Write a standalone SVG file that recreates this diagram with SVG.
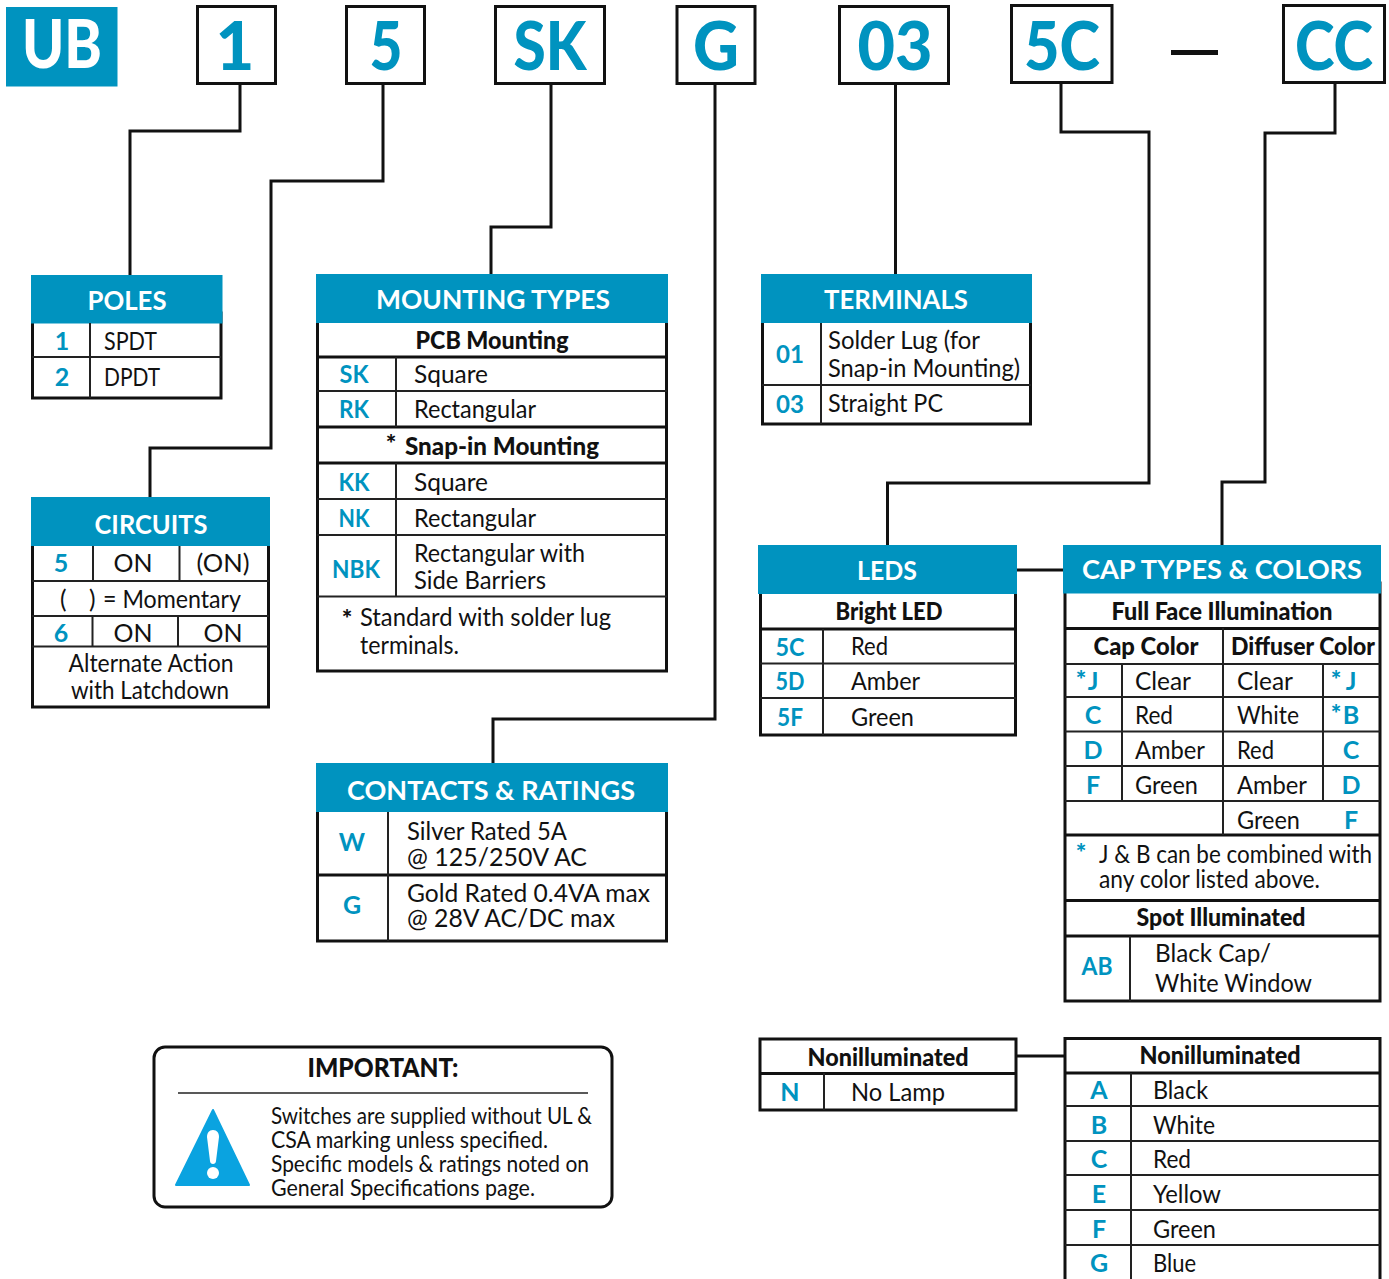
<svg xmlns="http://www.w3.org/2000/svg" width="1389" height="1279" viewBox="0 0 1389 1279">
<style>
text{font-family:"Lato","Liberation Sans",sans-serif;fill:#111}
.hd{fill:#0093bf}
.box{fill:#fff;stroke:#111;stroke-width:3}
.l{stroke:#222;stroke-width:2;fill:none}
.t{stroke:#111;stroke-width:3;fill:none}
.top{font-size:67px;font-weight:900;fill:#0093bf;text-anchor:middle}
.ti{font-size:27.500px;font-weight:700;fill:#fff;text-anchor:middle}
.b{font-size:24.500px}
.bc{font-size:24.500px;text-anchor:middle}
.sub{font-size:25px;font-weight:900;text-anchor:middle}
.c{font-size:25px;font-weight:700;fill:#0093bf;text-anchor:middle}
.s{font-size:25px;font-weight:900;fill:#0093bf;text-anchor:middle}
.sk{font-size:25px;font-weight:900;text-anchor:middle}
.imp{font-size:22.500px}
.con{fill:none;stroke:#111;stroke-width:3}
</style>
<g id="connectors" class="con">
<path d="M240 84V131H130V275"/>
<path d="M383 84V181H271V448H150V497"/>
<path d="M551 84V227H491V274"/>
<path d="M715 84V719H493V763"/>
<path d="M895.500 84V274"/>
<path d="M1061 84V132H1149V483H887.500V545"/>
<path d="M1335 84V133H1265V482H1222V545"/>
<path d="M1017 570H1063"/>
<path d="M1016 1056H1064"/>
</g>
<g id="code-ub"><rect x="6" y="7" width="111.500" height="79.500" class="hd"/><text x="62" y="68" class="top" style="fill:#fff" textLength="80" lengthAdjust="spacingAndGlyphs">UB</text></g>
<g id="code-1"><rect x="197.500" y="6.500" width="78" height="77" class="box"/><text x="235" y="70" class="top">1</text></g>
<g id="code-5"><rect x="346.500" y="6.500" width="78" height="77" class="box"/><text x="386" y="70" class="top" textLength="33" lengthAdjust="spacingAndGlyphs">5</text></g>
<g id="code-sk"><rect x="495.500" y="6.500" width="109" height="77" class="box"/><text x="550" y="70" class="top" textLength="73" lengthAdjust="spacingAndGlyphs">SK</text></g>
<g id="code-g"><rect x="677" y="6.500" width="78" height="77" class="box"/><text x="716" y="70" class="top" textLength="46" lengthAdjust="spacingAndGlyphs">G</text></g>
<g id="code-03"><rect x="839.500" y="6.500" width="109" height="77" class="box"/><text x="895" y="70" class="top" textLength="75" lengthAdjust="spacingAndGlyphs">03</text></g>
<g id="code-5c"><rect x="1011.500" y="5.500" width="100.500" height="77" class="box"/><text x="1062" y="70" class="top" textLength="76" lengthAdjust="spacingAndGlyphs">5C</text></g>
<g id="code-dash"><rect x="1171" y="50" width="47" height="5" fill="#111"/></g>
<g id="code-cc"><rect x="1283.500" y="5.500" width="101" height="77" class="box"/><text x="1334" y="70" class="top" textLength="78" lengthAdjust="spacingAndGlyphs">CC</text></g>

<g id="poles">
<rect x="32.500" y="313" width="188.500" height="85" class="box"/><rect x="31" y="275" width="191.500" height="48.500" class="hd"/>
<path class="l" d="M32 357H221M90 323V398"/>
<text x="127" y="310" class="ti" textLength="79" lengthAdjust="spacingAndGlyphs">POLES</text>
<text x="62" y="350" class="c">1</text><text x="104" y="350" class="b" textLength="53" lengthAdjust="spacingAndGlyphs">SPDT</text>
<text x="62" y="386" class="c">2</text><text x="104" y="386" class="b" textLength="56" lengthAdjust="spacingAndGlyphs">DPDT</text>
</g>

<g id="circuits">
<rect x="32.500" y="536" width="236" height="171" class="box"/><rect x="31" y="497" width="239" height="49" class="hd"/>
<path class="l" d="M32 581H269M32 616H269M32 646.500H269M93 546V581M179.500 546V581M92.500 616V646M178 616V646"/>
<text x="151" y="534" class="ti" textLength="113" lengthAdjust="spacingAndGlyphs">CIRCUITS</text>
<text x="61" y="572" class="c">5</text><text x="133" y="572" class="bc" textLength="39" lengthAdjust="spacingAndGlyphs">ON</text><text x="223" y="572" class="bc" textLength="53" lengthAdjust="spacingAndGlyphs">(ON)</text>
<text x="60" y="608" class="b">(</text><text x="89" y="608" class="b">)</text><text x="103" y="608" class="b" textLength="138" lengthAdjust="spacingAndGlyphs">= Momentary</text>
<text x="61" y="642" class="c">6</text><text x="133" y="642" class="bc" textLength="39" lengthAdjust="spacingAndGlyphs">ON</text><text x="223" y="642" class="bc" textLength="39" lengthAdjust="spacingAndGlyphs">ON</text>
<text x="151" y="672" class="bc" textLength="165" lengthAdjust="spacingAndGlyphs">Alternate Action</text>
<text x="150" y="699" class="bc" textLength="158" lengthAdjust="spacingAndGlyphs">with Latchdown</text>
</g>

<g id="mounting-types">
<rect x="317.500" y="313" width="349" height="358" class="box"/><rect x="316" y="274" width="352" height="49" class="hd"/>
<path class="t" d="M317 357H667M317 427H667M317 463H667"/>
<path class="l" d="M317 391H667M317 499H667M317 535H667M317 596.500H667M396 357V427M396 463V596"/>
<text x="493" y="309" class="ti" textLength="234" lengthAdjust="spacingAndGlyphs">MOUNTING TYPES</text>
<text x="492" y="349" class="sub" textLength="153" lengthAdjust="spacingAndGlyphs">PCB Mounting</text>
<text x="354" y="383" class="c" textLength="29" lengthAdjust="spacingAndGlyphs">SK</text><text x="414" y="383" class="b" textLength="74" lengthAdjust="spacingAndGlyphs">Square</text>
<text x="354" y="418" class="c" textLength="30" lengthAdjust="spacingAndGlyphs">RK</text><text x="414" y="418" class="b" textLength="122" lengthAdjust="spacingAndGlyphs">Rectangular</text>
<text x="391" y="453" class="sk">*</text><text x="405" y="455" class="sub" style="text-anchor:start" textLength="194" lengthAdjust="spacingAndGlyphs">Snap-in Mounting</text>
<text x="354" y="491" class="c" textLength="31" lengthAdjust="spacingAndGlyphs">KK</text><text x="414" y="491" class="b" textLength="74" lengthAdjust="spacingAndGlyphs">Square</text>
<text x="354" y="527" class="c" textLength="31" lengthAdjust="spacingAndGlyphs">NK</text><text x="414" y="527" class="b" textLength="122" lengthAdjust="spacingAndGlyphs">Rectangular</text>
<text x="356" y="578" class="c" textLength="48" lengthAdjust="spacingAndGlyphs">NBK</text>
<text x="414" y="562" class="b" textLength="171" lengthAdjust="spacingAndGlyphs">Rectangular with</text>
<text x="414" y="589" class="b" textLength="132" lengthAdjust="spacingAndGlyphs">Side Barriers</text>
<text x="347" y="628" class="sk">*</text>
<text x="360" y="626" class="b" textLength="251" lengthAdjust="spacingAndGlyphs">Standard with solder lug</text>
<text x="360" y="654" class="b" textLength="99" lengthAdjust="spacingAndGlyphs">terminals.</text>
</g>

<g id="terminals">
<rect x="762.500" y="313" width="268" height="111" class="box"/><rect x="761" y="274" width="271" height="49" class="hd"/>
<path class="l" d="M762 385H1031M821 323V424"/>
<text x="896" y="309" class="ti" textLength="144" lengthAdjust="spacingAndGlyphs">TERMINALS</text>
<text x="790" y="363" class="c" textLength="28" lengthAdjust="spacingAndGlyphs">01</text>
<text x="828" y="349" class="b" textLength="152" lengthAdjust="spacingAndGlyphs">Solder Lug (for</text>
<text x="828" y="377" class="b" textLength="192" lengthAdjust="spacingAndGlyphs">Snap-in Mounting)</text>
<text x="790" y="413" class="c" textLength="28" lengthAdjust="spacingAndGlyphs">03</text>
<text x="828" y="412" class="b" textLength="115" lengthAdjust="spacingAndGlyphs">Straight PC</text>
</g>

<g id="leds">
<rect x="760.500" y="584" width="255" height="151" class="box"/><rect x="758" y="545" width="259" height="49" class="hd"/>
<path class="t" d="M760 629H1016"/>
<path class="l" d="M760 663.500H1016M760 698H1016M823 629V735"/>
<text x="887" y="580" class="ti" textLength="60" lengthAdjust="spacingAndGlyphs">LEDS</text>
<text x="889" y="620" class="sub" textLength="107" lengthAdjust="spacingAndGlyphs">Bright LED</text>
<text x="790" y="656" class="c" textLength="29" lengthAdjust="spacingAndGlyphs">5C</text><text x="851" y="655" class="b" textLength="37" lengthAdjust="spacingAndGlyphs">Red</text>
<text x="790" y="690" class="c" textLength="29" lengthAdjust="spacingAndGlyphs">5D</text><text x="851" y="690" class="b" textLength="69" lengthAdjust="spacingAndGlyphs">Amber</text>
<text x="790" y="726" class="c" textLength="26" lengthAdjust="spacingAndGlyphs">5F</text><text x="851" y="726" class="b" textLength="63" lengthAdjust="spacingAndGlyphs">Green</text>
</g>

<g id="cap-types-colors">
<rect x="1065" y="583" width="315" height="418" class="box"/><rect x="1063" y="545" width="318" height="48.500" class="hd"/>
<path class="t" d="M1065 628.500H1380M1065 835H1380M1065 900.500H1380M1065 936H1380"/>
<path class="l" d="M1065 664H1380M1065 697H1380M1065 731.500H1380M1065 766H1380M1065 801H1380M1223 628V835M1122 664V801M1323 664V801M1130 936V1001"/>
<text x="1222" y="579" class="ti" textLength="280" lengthAdjust="spacingAndGlyphs">CAP TYPES &amp; COLORS</text>
<text x="1222" y="620" class="sub" textLength="221" lengthAdjust="spacingAndGlyphs">Full Face Illumination</text>
<text x="1146" y="655" class="sub" textLength="105" lengthAdjust="spacingAndGlyphs">Cap Color</text>
<text x="1303" y="655" class="sub" textLength="144" lengthAdjust="spacingAndGlyphs">Diffuser Color</text>
<text x="1081" y="689" class="s">*</text><text x="1093" y="690" class="c">J</text><text x="1135" y="690" class="b" textLength="56" lengthAdjust="spacingAndGlyphs">Clear</text><text x="1237" y="690" class="b" textLength="56" lengthAdjust="spacingAndGlyphs">Clear</text><text x="1336" y="689" class="s">*</text><text x="1351" y="690" class="c">J</text>
<text x="1093" y="724" class="c">C</text><text x="1135" y="724" class="b" textLength="38" lengthAdjust="spacingAndGlyphs">Red</text><text x="1237" y="724" class="b" textLength="62" lengthAdjust="spacingAndGlyphs">White</text><text x="1336" y="723" class="s">*</text><text x="1351" y="724" class="c">B</text>
<text x="1093" y="759" class="c">D</text><text x="1135" y="759" class="b" textLength="70" lengthAdjust="spacingAndGlyphs">Amber</text><text x="1237" y="759" class="b" textLength="37" lengthAdjust="spacingAndGlyphs">Red</text><text x="1351" y="759" class="c">C</text>
<text x="1093" y="794" class="c">F</text><text x="1135" y="794" class="b" textLength="63" lengthAdjust="spacingAndGlyphs">Green</text><text x="1237" y="794" class="b" textLength="70" lengthAdjust="spacingAndGlyphs">Amber</text><text x="1351" y="794" class="c">D</text>
<text x="1237" y="829" class="b" textLength="63" lengthAdjust="spacingAndGlyphs">Green</text><text x="1351" y="829" class="c">F</text>
<text x="1081" y="862" class="s">*</text>
<text x="1099" y="863" class="b" textLength="273" lengthAdjust="spacingAndGlyphs">J &amp; B can be combined with</text>
<text x="1099" y="888" class="b" textLength="221" lengthAdjust="spacingAndGlyphs">any color listed above.</text>
<text x="1221" y="926" class="sub" textLength="169" lengthAdjust="spacingAndGlyphs">Spot Illuminated</text>
<text x="1097" y="975" class="c" textLength="31" lengthAdjust="spacingAndGlyphs">AB</text>
<text x="1155" y="962" class="b" textLength="116" lengthAdjust="spacingAndGlyphs">Black Cap/</text>
<text x="1155" y="992" class="b" textLength="157" lengthAdjust="spacingAndGlyphs">White Window</text>
</g>

<g id="contacts-ratings">
<rect x="317.500" y="802" width="349" height="139" class="box"/><rect x="316" y="763" width="352" height="49" class="hd"/>
<path class="t" d="M317 875H667"/><path class="l" d="M388 812V941"/>
<text x="491" y="800" class="ti" textLength="288" lengthAdjust="spacingAndGlyphs">CONTACTS &amp; RATINGS</text>
<text x="352" y="851" class="c">W</text><text x="352" y="914" class="c">G</text>
<text x="407" y="840" class="b" textLength="160" lengthAdjust="spacingAndGlyphs">Silver Rated 5A</text>
<text x="407" y="866" class="b" textLength="180" lengthAdjust="spacingAndGlyphs">@ 125/250V AC</text>
<text x="407" y="902" class="b" textLength="243" lengthAdjust="spacingAndGlyphs">Gold Rated 0.4VA max</text>
<text x="407" y="927" class="b" textLength="208" lengthAdjust="spacingAndGlyphs">@ 28V AC/DC max</text>
</g>

<g id="important">
<rect x="154" y="1047" width="458" height="160" rx="11" class="box"/>
<path d="M178 1093H588" stroke="#222" stroke-width="1.500"/>
<path d="M213 1110L249 1185H176Z" fill="#0aa3e0" stroke="#0aa3e0" stroke-width="2" stroke-linejoin="round"/>
<path d="M213 1130c-4 0-6 3-6 7l3 24c0 4 6 4 6 0l3-24c0-4-2-7-6-7Z" fill="#fff"/>
<circle cx="213" cy="1173" r="6" fill="#fff"/>
<text x="383" y="1077" style="font-size:27px;font-weight:900;text-anchor:middle" textLength="151" lengthAdjust="spacingAndGlyphs">IMPORTANT:</text>
<text x="271" y="1124" class="imp" textLength="321" lengthAdjust="spacingAndGlyphs">Switches are supplied without UL &amp;</text>
<text x="271" y="1148" class="imp" textLength="277" lengthAdjust="spacingAndGlyphs">CSA marking unless specified.</text>
<text x="271" y="1172" class="imp" textLength="318" lengthAdjust="spacingAndGlyphs">Specific models &amp; ratings noted on</text>
<text x="271" y="1196" class="imp" textLength="264" lengthAdjust="spacingAndGlyphs">General Specifications page.</text>
</g>

<g id="nonilluminated-led">
<rect x="760" y="1039" width="256" height="71" class="box"/>
<path class="t" d="M760 1073.500H1016"/><path class="l" d="M824 1073V1110"/>
<text x="888" y="1066" class="sub" textLength="161" lengthAdjust="spacingAndGlyphs">Nonilluminated</text>
<text x="790" y="1101" class="c">N</text><text x="851" y="1101" class="b" textLength="94" lengthAdjust="spacingAndGlyphs">No Lamp</text>
</g>

<g id="nonilluminated-cap">
<path class="t" d="M1065 1282V1038.500H1380V1282" fill="#fff"/>
<path class="t" d="M1065 1073H1380"/>
<path class="l" d="M1065 1106H1380M1065 1141H1380M1065 1175H1380M1065 1210H1380M1065 1245H1380M1131 1073V1280"/>
<text x="1220" y="1064" class="sub" textLength="161" lengthAdjust="spacingAndGlyphs">Nonilluminated</text>
<text x="1099" y="1099" class="c">A</text><text x="1153" y="1099" class="b" textLength="55" lengthAdjust="spacingAndGlyphs">Black</text>
<text x="1099" y="1134" class="c">B</text><text x="1153" y="1134" class="b" textLength="62" lengthAdjust="spacingAndGlyphs">White</text>
<text x="1099" y="1168" class="c">C</text><text x="1153" y="1168" class="b" textLength="38" lengthAdjust="spacingAndGlyphs">Red</text>
<text x="1099" y="1203" class="c">E</text><text x="1153" y="1203" class="b" textLength="68" lengthAdjust="spacingAndGlyphs">Yellow</text>
<text x="1099" y="1238" class="c">F</text><text x="1153" y="1238" class="b" textLength="63" lengthAdjust="spacingAndGlyphs">Green</text>
<text x="1099" y="1272" class="c">G</text><text x="1153" y="1272" class="b" textLength="43" lengthAdjust="spacingAndGlyphs">Blue</text>
</g>
</svg>
